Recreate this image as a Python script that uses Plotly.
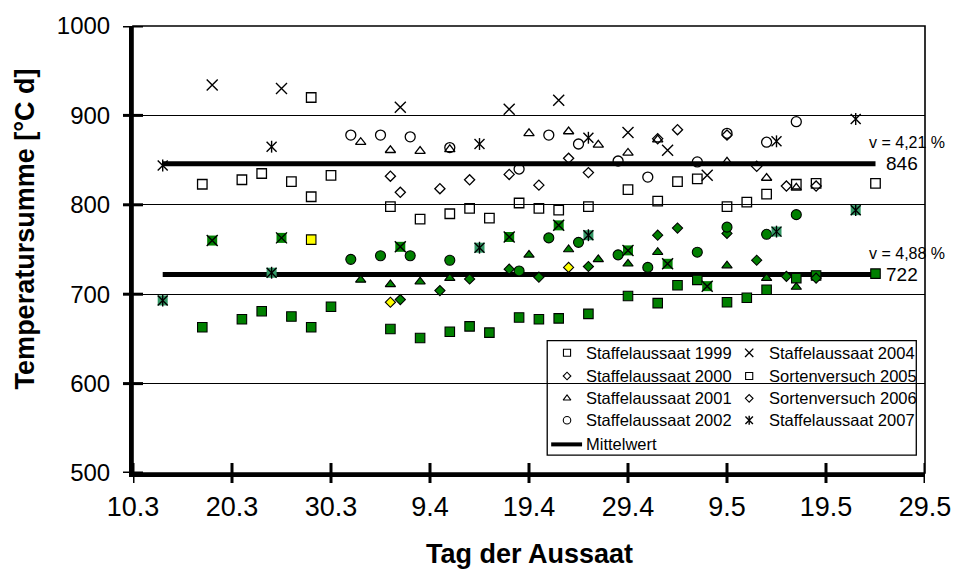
import pandas as pd
import plotly.graph_objects as go

YEAR = 2001  # common calendar year used to place all sowing days on one axis

# ---- data: sowing dates (day.month) and temperature sums [°C d] ----
# upper = open symbols, lower = filled symbols
s1999_dates = ["17.3", "21.3", "23.3", "26.3", "28.3", "30.3", "5.4", "8.4", "11.4",
               "13.4", "15.4", "18.4", "20.4", "22.4", "25.4", "29.4", "2.5", "4.5",
               "6.5", "9.5", "11.5", "13.5", "16.5", "18.5", "24.5"]
s1999_upper = [823, 828, 835, 826, 809, 833, 798, 784, 790, 796, 785, 802, 796, 794,
               798, 817, 804, 826, 829, 798, 803, 812, 823, 824, 824]
s1999_lower = [663, 672, 681, 675, 663, 686, 661, 651, 658, 664, 657, 674, 672, 673,
               678, 698, 690, 710, 716, 691, 696, 705, 718, 721, 723]

s2000_dates = ["6.4", "10.4", "13.4", "17.4", "20.4", "25.4", "2.5", "4.5", "9.5",
               "12.5", "15.5", "18.5"]
s2000_upper = [814, 818, 828, 834, 822, 836, 874, 884, 878, 843, 821, 821]
s2000_lower = [694, 704, 717, 728, 719, 731, 766, 774, 768, 738, 720, 718]

s2001_dates = ["2.4", "5.4", "8.4", "11.4", "19.4", "23.4", "26.4", "29.4", "2.5",
               "9.5", "13.5", "16.5"]
s2001_upper = [870, 861, 860, 862, 880, 882, 867, 858, 873, 848, 830, 819]
s2001_lower = [716, 711, 714, 718, 744, 750, 739, 734, 747, 732, 718, 708]

s2002_dates = ["1.4", "4.4", "7.4", "11.4", "18.4", "21.4", "24.4", "28.4", "1.5",
               "6.5", "9.5", "13.5", "16.5"]
s2002_upper = [878, 878, 876, 864, 840, 878, 868, 849, 831, 848, 880, 870, 893]
s2002_lower = [739, 743, 743, 738, 726, 763, 758, 744, 730, 747, 775, 767, 789]

s2004_dates = ["18.3", "25.3", "6.4", "17.4", "22.4", "29.4", "3.5", "7.5"]
s2004_upper = [934, 930, 909, 907, 917, 881, 861, 833]
s2004_lower = [760, 763, 753, 764, 777, 749, 734, 709]

v2005_dates = ["28.3"]
v2005_upper = [920]
v2005_lower = [761]

v2006_dates = ["5.4", "23.4"]
v2006_upper = [832, 852]
v2006_lower = [691, 730]

s2007_dates = ["13.3", "24.3", "14.4", "25.4", "14.5", "22.5"]
s2007_upper = [844, 865, 868, 875, 871, 896]
s2007_lower = [693, 724, 752, 766, 770, 794]

# means and coefficients of variation
mean_upper, cv_upper = 846, 4.21
mean_lower, cv_lower = 722, 4.88

x_tick_labels = ["10.3", "20.3", "30.3", "9.4", "19.4", "29.4", "9.5", "19.5", "29.5"]
y_tick_values = [500, 600, 700, 800, 900, 1000]

GREEN = "#008000"
YELLOW = "#FFFF00"
TEAL = "#339966"
FONT = "Liberation Sans, Arial, sans-serif"


def to_dates(labels):
    out = []
    for s in labels:
        d, m = s.split(".")
        out.append(pd.Timestamp(year=YEAR, month=int(m), day=int(d)))
    return out


# name, dates, upper, lower, symbol kind, lower fill, legend column, legend row
series = [
    ("Staffelaussaat 1999", s1999_dates, s1999_upper, s1999_lower, "square", GREEN, 0, 0),
    ("Staffelaussaat 2000", s2000_dates, s2000_upper, s2000_lower, "diamond", GREEN, 0, 1),
    ("Staffelaussaat 2001", s2001_dates, s2001_upper, s2001_lower, "triangle-up", GREEN, 0, 2),
    ("Staffelaussaat 2002", s2002_dates, s2002_upper, s2002_lower, "circle", GREEN, 0, 3),
    ("Staffelaussaat 2004", s2004_dates, s2004_upper, s2004_lower, "x", GREEN, 1, 0),
    ("Sortenversuch 2005", v2005_dates, v2005_upper, v2005_lower, "square", YELLOW, 1, 1),
    ("Sortenversuch 2006", v2006_dates, v2006_upper, v2006_lower, "diamond", YELLOW, 1, 2),
    ("Staffelaussaat 2007", s2007_dates, s2007_upper, s2007_lower, "asterisk", TEAL, 1, 3),
]

SIZES = {"square": 9.5, "diamond": 7.8, "triangle-up": 9, "circle": 10}

fig = go.Figure()

all_dates = [d for s in series for d in to_dates(s[1])]
x_first, x_last = min(all_dates), max(all_dates)

# mean lines
for m in (mean_upper, mean_lower):
    fig.add_trace(go.Scatter(x=[x_first, x_last], y=[m, m], mode="lines",
                             line=dict(color="black", width=5), hoverinfo="skip"))


def add_open(fig, x, y, kind, scale=1.0, xaxis="x", yaxis="y", lw=1.3):
    if kind == "x":
        fig.add_trace(go.Scatter(x=x, y=y, mode="markers", xaxis=xaxis, yaxis=yaxis,
                                 marker=dict(symbol="x-thin-open", size=11 * scale, color="black",
                                             line=dict(color="black", width=1.4))))
    elif kind == "asterisk":
        fig.add_trace(go.Scatter(x=x, y=y, mode="markers", xaxis=xaxis, yaxis=yaxis,
                                 marker=dict(symbol="x-thin-open", size=10 * scale, color="black",
                                             line=dict(color="black", width=1.4))))
        fig.add_trace(go.Scatter(x=x, y=y, mode="markers", xaxis=xaxis, yaxis=yaxis,
                                 marker=dict(symbol="line-ns-open", size=8.5 * scale, color="black",
                                             line=dict(color="black", width=1.4))))
    else:
        fig.add_trace(go.Scatter(x=x, y=y, mode="markers", xaxis=xaxis, yaxis=yaxis,
                                 marker=dict(symbol=kind + "-open", size=SIZES[kind] * scale,
                                             color="black", line=dict(color="black", width=lw))))


def add_filled(fig, x, y, kind, fill):
    if kind in ("x", "asterisk"):
        fig.add_trace(go.Scatter(x=x, y=y, mode="markers",
                                 marker=dict(symbol="square", size=10, color=fill,
                                             line=dict(width=0))))
        add_open(fig, x, y, kind)
    else:
        fig.add_trace(go.Scatter(x=x, y=y, mode="markers",
                                 marker=dict(symbol=kind, size=SIZES[kind], color=fill,
                                             line=dict(color="black", width=1.1))))


for name, dates, up, low, kind, fill, col, row in series:
    xd = to_dates(dates)
    add_open(fig, xd, up, kind)
    add_filled(fig, xd, low, kind, fill)

# ---- legend (drawn on an overlay axis in plot-area fractions) ----
leg_x0, leg_x1, leg_y0, leg_y1 = 0.523, 0.989, 0.040, 0.296
row_y = [0.269, 0.217, 0.167, 0.118, 0.064]
col_marker_x = [0.548, 0.778]
col_text_x = [0.569, 0.801]

shapes = [
    dict(type="rect", xref="paper", yref="paper", x0=leg_x0, x1=leg_x1, y0=leg_y0, y1=leg_y1,
         line=dict(color="black", width=1.3), fillcolor="white", layer="between"),
    dict(type="line", xref="paper", yref="paper", x0=0.528, x1=0.567,
         y0=row_y[4], y1=row_y[4], line=dict(color="black", width=4)),
    # frame on top and right
    dict(type="rect", xref="paper", yref="paper", x0=0, x1=1, y0=0, y1=1,
         line=dict(color="black", width=1.6), layer="below"),
]

annotations = []
for name, dates, up, low, kind, fill, col, row in series:
    add_open(fig, [col_marker_x[col]], [row_y[row]], kind, scale=0.75,
             xaxis="x2", yaxis="y2", lw=1.1)
    annotations.append(dict(x=col_text_x[col], y=row_y[row], xref="paper", yref="paper",
                            text=name, showarrow=False, xanchor="left", yanchor="middle",
                            font=dict(family=FONT, size=16.5, color="black")))
annotations.append(dict(x=0.569, y=row_y[4], xref="paper", yref="paper", text="Mittelwert",
                        showarrow=False, xanchor="left", yanchor="middle",
                        font=dict(family=FONT, size=16.5, color="black")))

# mean labels and variation coefficients
for m, cv in ((mean_upper, cv_upper), (mean_lower, cv_lower)):
    annotations.append(dict(x=x_last, y=m, xref="x", yref="y", text=f"{m}", showarrow=False,
                            xanchor="left", yanchor="middle", xshift=8,
                            font=dict(family=FONT, size=19, color="black")))
    annotations.append(dict(x=x_last, y=m, xref="x", yref="y",
                            text=f"v = {cv:.2f} %".replace(".", ","), showarrow=False,
                            xanchor="left", yanchor="middle", xshift=-9, yshift=21,
                            font=dict(family=FONT, size=16, color="black")))

# axis titles
annotations.append(dict(x=0.5, y=0, xref="paper", yref="paper", text="<b>Tag der Aussaat</b>",
                        showarrow=False, xanchor="center", yanchor="middle", yshift=-81,
                        font=dict(family=FONT, size=27, color="black")))
annotations.append(dict(x=0, y=0.545, xref="paper", yref="paper",
                        text="<b>Temperatursumme [°C d]</b>", textangle=-90,
                        showarrow=False, xanchor="center", yanchor="middle", xshift=-108,
                        font=dict(family=FONT, size=27, color="black")))

# crossing tick marks
x_tick_dates = to_dates(x_tick_labels)
for d in x_tick_dates:
    shapes.append(dict(type="line", xref="x", yref="paper", x0=d, x1=d, ysizemode="pixel",
                       yanchor=0, y0=-10, y1=10, line=dict(color="black", width=3)))
for v in y_tick_values:
    shapes.append(dict(type="line", yref="y", xref="paper", y0=v, y1=v, xsizemode="pixel",
                       xanchor=0, x0=-10, x1=10, line=dict(color="black", width=3)))

fig.update_layout(
    width=963, height=571,
    margin=dict(l=133, r=27, t=23, b=98),
    paper_bgcolor="white", plot_bgcolor="white",
    showlegend=False,
    font=dict(family=FONT, size=24, color="black"),
    shapes=shapes, annotations=annotations,
    xaxis=dict(type="date", range=[x_tick_dates[0], x_tick_dates[-1]],
               tickvals=x_tick_dates, ticktext=x_tick_labels, ticks="",
               showgrid=False, zeroline=False, showline=True, linecolor="black", linewidth=4,
               ticklabelstandoff=7, tickfont=dict(size=27)),
    yaxis=dict(range=[500, 1000], tickvals=y_tick_values, ticks="",
               showgrid=True, gridcolor="black", gridwidth=1.2, zeroline=False,
               showline=True, linecolor="black", linewidth=4,
               ticklabelstandoff=14, tickfont=dict(size=24)),
    xaxis2=dict(overlaying="x", range=[0, 1], visible=False),
    yaxis2=dict(overlaying="y", range=[0, 1], visible=False),
)

fig.write_html("out.html")
